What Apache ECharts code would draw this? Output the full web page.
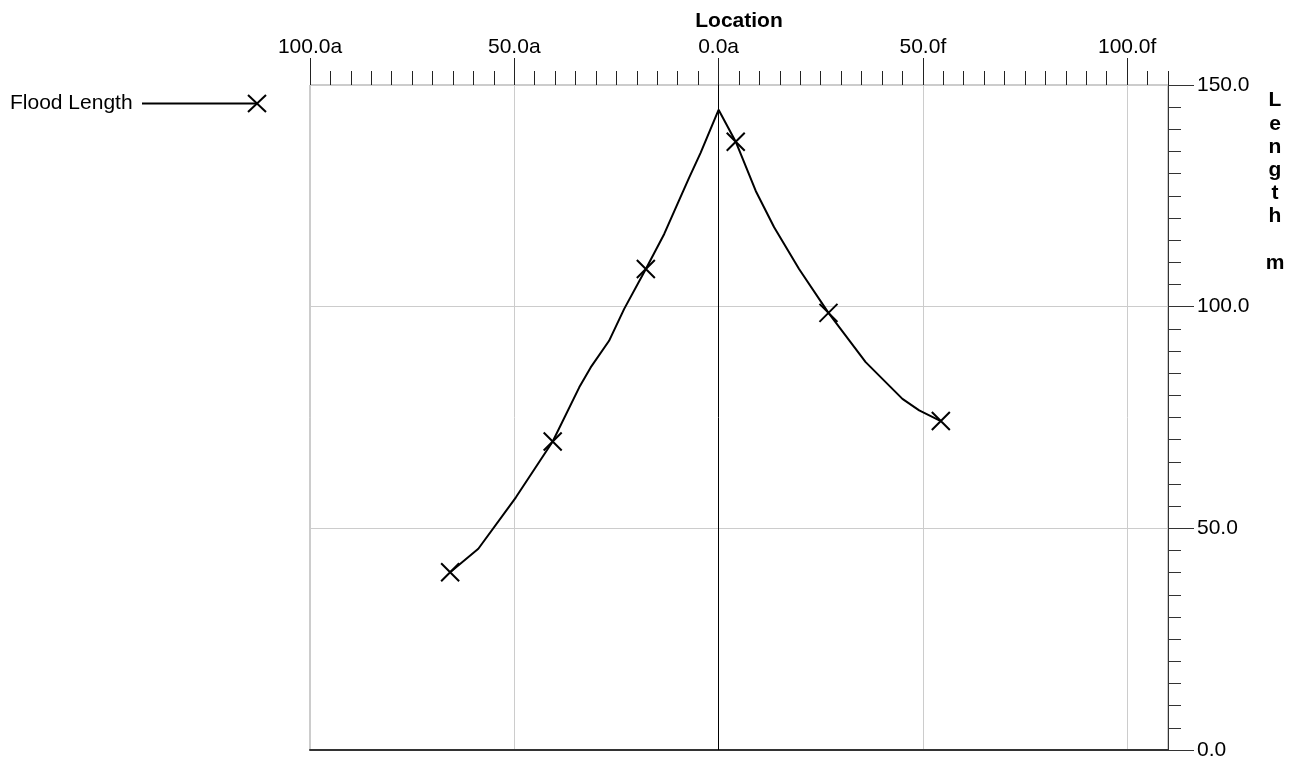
<!DOCTYPE html>
<html>
<head>
<meta charset="utf-8">
<script src="https://cdn.jsdelivr.net/npm/echarts@6/dist/echarts.min.js"></script>
<style>
  * { margin: 0; padding: 0; }
  body { background: #fff; }
</style>
</head>
<body>
<div id="main" style="width: 1306px; height: 765px;"></div>
<script>
  // location (negative = "a", positive = "f") and flood length
  var locations = [-65.7, -58.8, -49.6, -40.6, -34.1, -31.3, -26.8, -23.1, -17.8, -13.3, -9.7, -7.2, -4.4, 0.0,
    4.2, 9.1, 13.6, 19.7, 26.9, 36.0, 45.0, 49.1, 54.4]
  var lengths = [40.1, 45.4, 57.0, 69.6, 81.8, 86.3, 92.3, 99.5, 108.5, 116.4, 123.9, 129.1, 134.7, 144.4,
    137.2, 126.1, 117.9, 108.5, 98.6, 87.5, 79.2, 76.6, 74.2]
  // which points carry an X marker
  var markerIdx = [0, 3, 8, 14, 18, 22]
  var xMajorTicks = [-100, -50, 0, 50, 100]

  var xPath = 'path://M0,0L10,10M10,0L0,10'
  var font = '"Liberation Sans", Arial, sans-serif'

  var seriesData = locations.map(function (x, i) {
    return {
      value: [x, lengths[i]],
      symbolSize: markerIdx.indexOf(i) >= 0 ? 18 : 0
    }
  })

  var chart = echarts.init(document.getElementById('main'))
  chart.setOption({
    animation: false,
    backgroundColor: '#fff',
    textStyle: { fontFamily: font },
    grid: {
      left: 310, right: 138, top: 85, bottom: 15,
      show: true, borderColor: '#999', borderWidth: 1
    },
    xAxis: [
      {
        // minor ticks every 5
        type: 'value', position: 'top', min: -100, max: 110, interval: 5,
        axisLine: { show: false, onZero: false },
        axisTick: { length: 14, lineStyle: { color: '#222' } },
        axisLabel: { show: false },
        splitLine: { show: false }
      },
      {
        // major ticks, labels, grid lines
        type: 'value', position: 'top', min: -100, max: 110, interval: 50,
        name: 'Location', nameLocation: 'middle', nameGap: 51,
        nameTextStyle: { fontSize: 21, fontWeight: 'bold', color: '#000', fontFamily: font },
        axisLine: { show: false, onZero: false },
        axisTick: { length: 27, customValues: xMajorTicks, lineStyle: { color: '#222' } },
        axisLabel: {
          customValues: xMajorTicks, margin: 27, fontSize: 21, color: '#000', fontFamily: font,
          formatter: function (v) {
            return Math.abs(v).toFixed(1) + (v > 0 ? 'f' : 'a')
          }
        },
        splitLine: { show: true, lineStyle: { color: '#ccc', width: 1 } }
      },
      {
        type: 'value', position: 'bottom', min: -100, max: 110,
        axisLine: { show: true, onZero: false, lineStyle: { color: '#333', width: 2 } },
        axisTick: { show: false },
        axisLabel: { show: false },
        splitLine: { show: false }
      }
    ],
    yAxis: [
      {
        type: 'value', position: 'right', min: 0, max: 150, interval: 5,
        axisLine: { show: true, onZero: false, lineStyle: { color: '#333', width: 1 } },
        axisTick: { length: 13, lineStyle: { color: '#333' } },
        axisLabel: { show: false },
        splitLine: { show: false }
      },
      {
        type: 'value', position: 'right', min: 0, max: 150, interval: 50,
        axisLine: { show: false, onZero: false },
        axisTick: { length: 26, lineStyle: { color: '#333' } },
        axisLabel: {
          margin: 29, fontSize: 21, color: '#000', fontFamily: font,
          formatter: function (v) { return v.toFixed(1) }
        },
        splitLine: { show: true, lineStyle: { color: '#ccc', width: 1 } }
      }
    ],
    graphic: [
      {
        type: 'text', x: 1275, y: 89,
        style: {
          text: 'L\ne\nn\ng\nt\nh\n\nm', fill: '#000', font: 'bold 21px ' + font,
          lineHeight: 23.2, align: 'center', verticalAlign: 'top'
        }
      },
      {
        type: 'text', x: 10, y: 103,
        style: { text: 'Flood Length', fill: '#000', font: '21px ' + font, verticalAlign: 'middle' }
      },
      {
        type: 'line', shape: { x1: 142, y1: 103.5, x2: 256, y2: 103.5 },
        style: { stroke: '#000', lineWidth: 2 }
      },
      {
        type: 'polyline', shape: { points: [[248, 95], [266, 112]] },
        style: { stroke: '#000', lineWidth: 2 }
      },
      {
        type: 'polyline', shape: { points: [[266, 95], [248, 112]] },
        style: { stroke: '#000', lineWidth: 2 }
      }
    ],
    series: [
      {
        name: 'Flood Length',
        type: 'line',
        xAxisIndex: 0,
        yAxisIndex: 0,
        data: seriesData,
        symbol: xPath,
        showAllSymbol: true,
        lineStyle: { color: '#000', width: 2 },
        itemStyle: { color: 'rgba(0,0,0,0)', borderColor: '#000', borderWidth: 2 },
        markLine: {
          silent: true,
          symbol: 'none',
          label: { show: false },
          lineStyle: { color: '#000', width: 1, type: 'solid' },
          data: [{ xAxis: 0 }]
        },
        z: 5
      }
    ]
  })
</script>
</body>
</html>
